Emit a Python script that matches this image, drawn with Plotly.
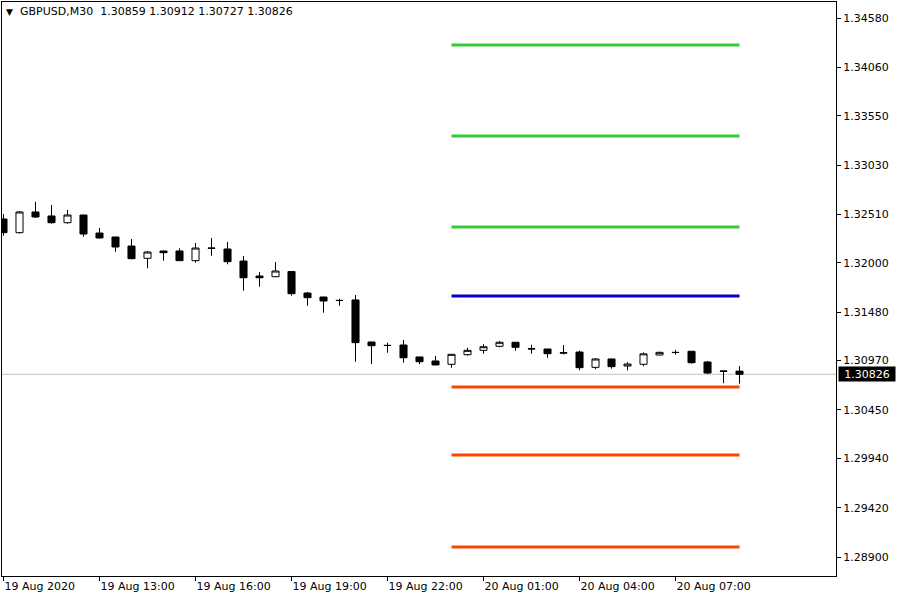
import plotly.graph_objects as go
import pandas as pd

# ---- data ----
times = [t.strftime("%Y-%m-%d %H:%M") for t in pd.date_range("2020-08-19 10:00", periods=47, freq="30min")]

open_ = [1.32462, 1.32318, 1.32536, 1.32494, 1.32423, 1.32504, 1.32314, 1.32272, 1.32177, 1.32048,
         1.32125, 1.32125, 1.32023, 1.32156, 1.32146, 1.32019, 1.31861, 1.31854, 1.31908, 1.31682,
         1.31640, 1.31605, 1.31609, 1.31166, 1.31131, 1.31134, 1.31008, 1.30966, 1.30931, 1.31032,
         1.31078, 1.31121, 1.31163, 1.31095, 1.31092, 1.31053, 1.31060, 1.30899, 1.30987, 1.30913,
         1.30931, 1.31029, 1.31057, 1.31068, 1.30955, 1.30860, 1.30859]
high = [1.32515, 1.32546, 1.32644, 1.32610, 1.32557, 1.32507, 1.32367, 1.32276, 1.32251, 1.32125,
        1.32127, 1.32153, 1.32209, 1.32262, 1.32220, 1.32072, 1.31904, 1.32009, 1.31910, 1.31693,
        1.31642, 1.31622, 1.31661, 1.31168, 1.31159, 1.31187, 1.31010, 1.31018, 1.31040, 1.31106,
        1.31142, 1.31176, 1.31165, 1.31137, 1.31094, 1.31134, 1.31074, 1.30997, 1.30990, 1.30952,
        1.31057, 1.31064, 1.31082, 1.31070, 1.30966, 1.30863, 1.30912]
low = [1.32286, 1.32307, 1.32473, 1.32412, 1.32412, 1.32275, 1.32258, 1.32117, 1.32037, 1.31942,
       1.32023, 1.32020, 1.32002, 1.32075, 1.31985, 1.31706, 1.31749, 1.31848, 1.31654, 1.31548,
       1.31475, 1.31548, 1.30958, 1.30934, 1.31053, 1.30948, 1.30931, 1.30920, 1.30895, 1.31021,
       1.31043, 1.31110, 1.31074, 1.31043, 1.31000, 1.31036, 1.30868, 1.30878, 1.30885, 1.30868,
       1.30911, 1.31026, 1.31032, 1.30937, 1.30829, 1.30731, 1.30727]
close = [1.32318, 1.32536, 1.32483, 1.32423, 1.32504, 1.32304, 1.32262, 1.32167, 1.32044, 1.32114,
         1.32107, 1.32023, 1.32156, 1.32154, 1.32012, 1.31843, 1.31843, 1.31914, 1.31675, 1.31633,
         1.31598, 1.31603, 1.31159, 1.31127, 1.31129, 1.31000, 1.30958, 1.30924, 1.31036, 1.31078,
         1.31116, 1.31163, 1.31110, 1.31093, 1.31043, 1.31050, 1.30895, 1.30987, 1.30906, 1.30934,
         1.31041, 1.31057, 1.31055, 1.30948, 1.30839, 1.30858, 1.30826]

levels_green = [1.34296, 1.33337, 1.32378]
levels_blue = [1.31651]
levels_red = [1.30692, 1.29975, 1.29006]
level_start, level_end = times[28], times[46]

current_price = 1.30826
title_text = "GBPUSD,M30  1.30859 1.30912 1.30727 1.30826"

ytick_vals = [1.28900, 1.29420, 1.29940, 1.30450, 1.30970, 1.31480,
              1.32000, 1.32510, 1.33030, 1.33550, 1.34060, 1.34580]
xtick_idx = [0, 6, 12, 18, 24, 30, 36, 42]
xtick_text = ["19 Aug 2020", "19 Aug 13:00", "19 Aug 16:00", "19 Aug 19:00",
              "19 Aug 22:00", "20 Aug 01:00", "20 Aug 04:00", "20 Aug 07:00"]

FONT = "DejaVu Sans"

fig = go.Figure()
fig.add_trace(go.Candlestick(
    x=times, open=open_, high=high, low=low, close=close,
    increasing=dict(line=dict(color="black", width=1), fillcolor="white"),
    decreasing=dict(line=dict(color="black", width=1), fillcolor="black"),
    whiskerwidth=0, showlegend=False, hoverinfo="skip",
))

shapes = []
shapes.append(dict(type="line", xref="paper", x0=0, x1=1, yref="y",
                   y0=current_price, y1=current_price,
                   line=dict(color="#C0C0C0", width=1), layer="below"))
for lv_list, col in ((levels_green, "#32CD32"), (levels_blue, "#0000CD"), (levels_red, "#FF4500")):
    for lv in lv_list:
        shapes.append(dict(type="line", xref="x", yref="y", x0=level_start, x1=level_end,
                           y0=lv, y1=lv, line=dict(color=col, width=3)))

annotations = [
    dict(text="▼", xref="paper", yref="paper", x=0, y=1, xanchor="left", yanchor="top",
         xshift=2, yshift=-3, showarrow=False, font=dict(family=FONT, size=9, color="black")),
    dict(text=title_text, xref="paper", yref="paper", x=0, y=1, xanchor="left", yanchor="top",
         xshift=16, yshift=-1, showarrow=False, font=dict(family=FONT, size=11, color="black")),
    dict(text=f"{current_price:.5f}", xref="paper", yref="y", x=1, y=current_price,
         xanchor="left", yanchor="middle", xshift=2, showarrow=False,
         width=56, height=14, align="center",
         bgcolor="black", borderpad=0, font=dict(family=FONT, size=11, color="white")),
]

fig.update_layout(
    width=900, height=600,
    margin=dict(l=2, r=64, t=2, b=24),
    paper_bgcolor="white", plot_bgcolor="white",
    boxgap=0.37,
    shapes=shapes, annotations=annotations,
    showlegend=False,
    font=dict(family=FONT, size=11, color="black"),
    xaxis=dict(
        type="category", range=[-0.094, 52.03],
        tickmode="array", tickvals=[times[i] for i in xtick_idx], ticktext=xtick_text,
        ticks="outside", ticklen=4, tickcolor="black", tickwidth=1,
        ticklabelposition="outside right",
        showline=True, linecolor="black", linewidth=1, mirror=True,
        showgrid=False, zeroline=False, rangeslider=dict(visible=False),
        tickfont=dict(family=FONT, size=11, color="black"),
    ),
    yaxis=dict(
        side="right", range=[1.287001, 1.347486],
        tickmode="array", tickvals=ytick_vals, ticktext=[f"{v:.5f}" for v in ytick_vals],
        ticks="outside", ticklen=4, tickcolor="black", tickwidth=1,
        showline=True, linecolor="black", linewidth=1, mirror=True,
        showgrid=False, zeroline=False,
        tickfont=dict(family=FONT, size=11, color="black"),
    ),
)

fig.write_html("out.html", config={"displayModeBar": False},
               post_script="document.body.style.margin='0';")
